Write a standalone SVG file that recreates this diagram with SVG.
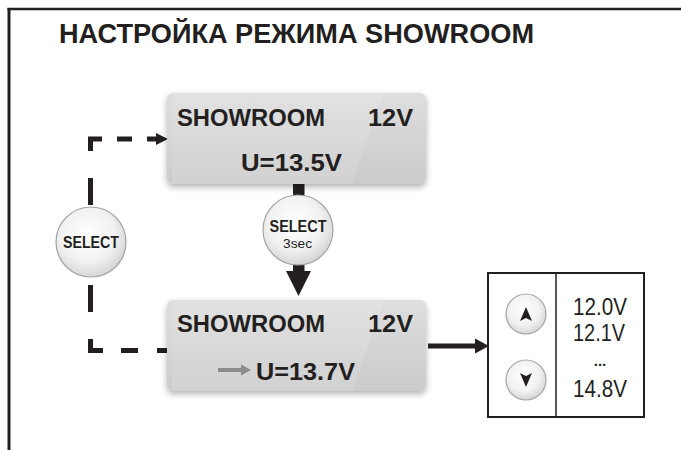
<svg xmlns="http://www.w3.org/2000/svg" width="681" height="450" viewBox="0 0 681 450">
<style>
.t{font-family:"Liberation Sans",Arial,sans-serif;fill:#231f20}
.b{font-weight:bold}
.ln{stroke:#231f20;fill:none}
</style>
<defs>
<linearGradient id="boxg" x1="0" y1="0" x2="0" y2="1">
<stop offset="0" stop-color="#dedede"/>
<stop offset="1" stop-color="#cbcbcc"/>
</linearGradient>
<radialGradient id="btn" cx="0.45" cy="0.4" r="0.65">
<stop offset="0" stop-color="#ffffff"/>
<stop offset="0.6" stop-color="#f1f1f1"/>
<stop offset="1" stop-color="#cfcfcf"/>
</radialGradient>
<filter id="sh" x="-10%" y="-20%" width="120%" height="150%">
<feDropShadow dx="0" dy="3" stdDeviation="3" flood-color="#000" flood-opacity="0.3"/>
</filter>
</defs>

<rect width="681" height="450" fill="#ffffff"/>
<g id="frame">
<line x1="7.5" y1="9" x2="681" y2="9" stroke="#231f20" stroke-width="2.5"/>
<line x1="9" y1="8" x2="9" y2="450" stroke="#231f20" stroke-width="3"/>
</g>

<text id="title" class="t b" x="59" y="43" font-size="27" textLength="475" lengthAdjust="spacingAndGlyphs">НАСТРОЙКА РЕЖИМА SHOWROOM</text>

<g id="connectors">
<!-- top box to bottom box -->
<rect x="293" y="183" width="11.5" height="90" fill="#231f20"/>
<polygon points="286,271 311,271 298.5,296" fill="#231f20"/>
<!-- bottom box to panel -->
<line x1="428" y1="346" x2="477" y2="346" class="ln" stroke-width="5"/>
<polygon points="475,338.5 489,346 475,353.5" fill="#231f20"/>
<!-- dashed loop -->
<path class="ln" stroke-width="5" stroke-linecap="butt" d="M90.5,151 V139 H102 M117,139 H132 M147,139 H158 M90.5,178 V205 M90.5,285 V312 M90.5,339 V350.5 H103 M121,350.5 H138 M157,350.5 H168"/>
<polygon points="156,133 168,139 156,145" fill="#231f20"/>
</g>

<g id="box-top">
<rect x="167" y="93" width="259" height="91" rx="6" fill="url(#boxg)" filter="url(#sh)"/>
<polygon points="172,93 384,93 352,184 172,184" fill="#ffffff" opacity="0.12"/>
<text class="t b" x="177" y="126" font-size="24" textLength="148" lengthAdjust="spacingAndGlyphs">SHOWROOM</text>
<text class="t b" x="368" y="126" font-size="24" textLength="45" lengthAdjust="spacingAndGlyphs">12V</text>
<text class="t b" x="241" y="171" font-size="24" textLength="101" lengthAdjust="spacingAndGlyphs">U=13.5V</text>
</g>

<g id="box-bottom">
<rect x="167" y="300" width="259" height="91" rx="6" fill="url(#boxg)" filter="url(#sh)"/>
<polygon points="172,300 384,300 352,391 172,391" fill="#ffffff" opacity="0.12"/>
<text class="t b" x="177" y="332" font-size="24" textLength="148" lengthAdjust="spacingAndGlyphs">SHOWROOM</text>
<text class="t b" x="368" y="332" font-size="24" textLength="45" lengthAdjust="spacingAndGlyphs">12V</text>
<line x1="218" y1="370" x2="243" y2="370" stroke="#8c8c8c" stroke-width="4"/>
<polygon points="241,364.5 251,370 241,375.5" fill="#8c8c8c"/>
<text class="t b" x="256" y="380" font-size="24" textLength="99" lengthAdjust="spacingAndGlyphs">U=13.7V</text>
</g>

<g id="btn-select">
<circle cx="91" cy="242" r="35" fill="url(#btn)" stroke="#a5a5a5" stroke-width="1.2"/>
<text class="t b" x="91" y="248" font-size="17" text-anchor="middle" textLength="56" lengthAdjust="spacingAndGlyphs">SELECT</text>
</g>

<g id="btn-select-3sec">
<circle cx="298" cy="230" r="35" fill="url(#btn)" stroke="#a5a5a5" stroke-width="1.2"/>
<text class="t b" x="298" y="231.5" font-size="16" text-anchor="middle" textLength="57" lengthAdjust="spacingAndGlyphs">SELECT</text>
<text class="t" x="297.5" y="247.5" font-size="12.5" text-anchor="middle" textLength="29" lengthAdjust="spacingAndGlyphs">3sec</text>
</g>

<g id="panel">
<rect x="488" y="273" width="156" height="144" fill="#ffffff" stroke="#231f20" stroke-width="2"/>
<line x1="556" y1="273" x2="556" y2="417" stroke="#231f20" stroke-width="1.5"/>
<circle cx="526" cy="314" r="20" fill="url(#btn)" stroke="#a5a5a5" stroke-width="1.2"/>
<polygon points="526,307 532,321 526,318 520,321" fill="#231f20"/>
<circle cx="526" cy="380" r="20" fill="url(#btn)" stroke="#a5a5a5" stroke-width="1.2"/>
<polygon points="520,373 526,376 532,373 526,387" fill="#231f20"/>
<text class="t" x="573" y="315" font-size="23" textLength="54" lengthAdjust="spacingAndGlyphs">12.0V</text>
<text class="t" x="573" y="341" font-size="23" textLength="52" lengthAdjust="spacingAndGlyphs">12.1V</text>
<text class="t b" x="600" y="366" font-size="15" text-anchor="middle">...</text>
<text class="t" x="573" y="397" font-size="23" textLength="54" lengthAdjust="spacingAndGlyphs">14.8V</text>
</g>
</svg>
